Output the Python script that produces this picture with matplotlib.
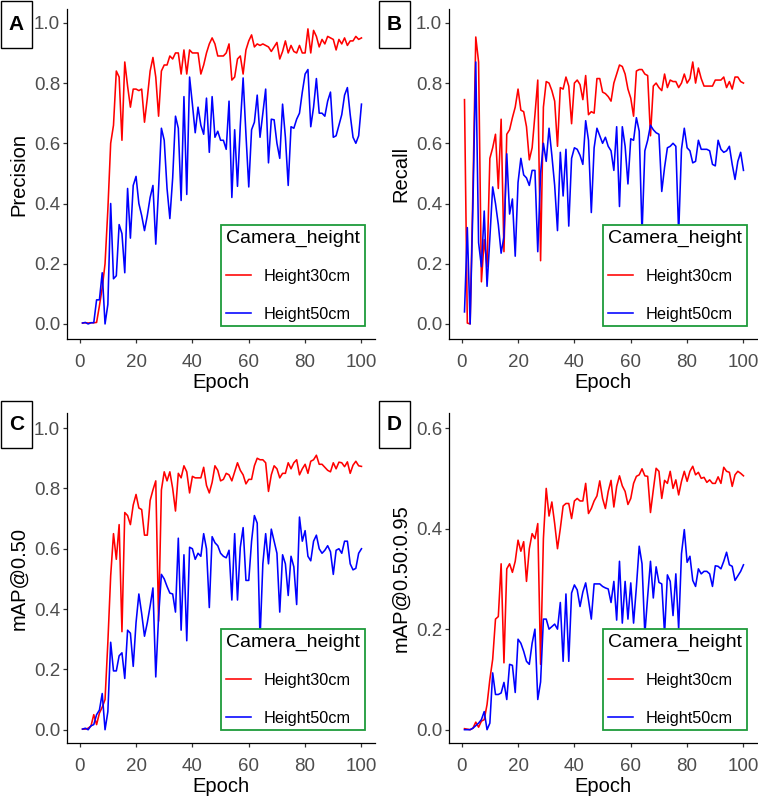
import numpy as np
import matplotlib
matplotlib.use('Agg')
import matplotlib.pyplot as plt
from matplotlib.patches import Rectangle

plt.rcParams['font.family'] = ['Liberation Sans', 'DejaVu Sans']

# Data (epochs 1..100)
epochs = np.arange(1, 101)

prec_30 = [0.003, 0.004, 0.003, 0.004, 0.004, 0.005, 0.06, 0.12, 0.2, 0.38,
           0.6, 0.66, 0.84, 0.82, 0.61, 0.87, 0.79, 0.72, 0.78, 0.78,
           0.775, 0.78, 0.67, 0.75, 0.84, 0.885, 0.82, 0.69, 0.84, 0.86,
           0.86, 0.89, 0.88, 0.9, 0.9, 0.83, 0.91, 0.83, 0.91, 0.9,
           0.9, 0.9, 0.83, 0.86, 0.9, 0.93, 0.95, 0.93, 0.89, 0.89,
           0.89, 0.9, 0.93, 0.81, 0.82, 0.88, 0.89, 0.83, 0.91, 0.94,
           0.96, 0.92, 0.93, 0.925, 0.93, 0.925, 0.92, 0.905, 0.92, 0.935,
           0.88, 0.905, 0.94, 0.9, 0.925, 0.905, 0.9, 0.925, 0.9, 0.9,
           0.98, 0.9, 0.975, 0.955, 0.92, 0.945, 0.93, 0.955, 0.95, 0.945,
           0.91, 0.945, 0.93, 0.95, 0.925, 0.94, 0.94, 0.955, 0.945, 0.95]
prec_50 = [0.003, 0.005, 0.0, 0.004, 0.004, 0.08, 0.08, 0.17, 0.0, 0.065,
           0.4, 0.15, 0.16, 0.33, 0.3, 0.17, 0.45, 0.285, 0.46, 0.49,
           0.4, 0.36, 0.31, 0.36, 0.42, 0.46, 0.265, 0.45, 0.65, 0.61,
           0.45, 0.35, 0.485, 0.69, 0.65, 0.41, 0.755, 0.43, 0.82, 0.73,
           0.635, 0.72, 0.66, 0.63, 0.75, 0.57, 0.755, 0.62, 0.64, 0.61,
           0.61, 0.58, 0.74, 0.42, 0.645, 0.457, 0.66, 0.817, 0.63, 0.455,
           0.645, 0.67, 0.76, 0.62, 0.7, 0.78, 0.535, 0.68, 0.678, 0.6,
           0.55, 0.73, 0.62, 0.46, 0.655, 0.65, 0.68, 0.7, 0.77, 0.83,
           0.845, 0.655, 0.72, 0.815, 0.7, 0.7, 0.69, 0.74, 0.77, 0.62,
           0.625, 0.66, 0.695, 0.76, 0.785, 0.695, 0.62, 0.6, 0.625, 0.73]

recall_30 = [0.745, 0.003, 0.0, 0.45, 0.953, 0.87, 0.14, 0.28, 0.19, 0.55,
             0.585, 0.63, 0.45, 0.68, 0.24, 0.63, 0.645, 0.685, 0.72, 0.78,
             0.71, 0.705, 0.655, 0.545, 0.585, 0.695, 0.81, 0.21, 0.72, 0.805,
             0.8, 0.775, 0.74, 0.59, 0.785, 0.78, 0.82, 0.79, 0.665, 0.8,
             0.81, 0.795, 0.745, 0.825, 0.695, 0.705, 0.7, 0.815, 0.815, 0.77,
             0.765, 0.755, 0.74, 0.8, 0.83, 0.86, 0.855, 0.83, 0.78, 0.75,
             0.69, 0.84, 0.845, 0.845, 0.83, 0.825, 0.625, 0.79, 0.8, 0.785,
             0.775, 0.83, 0.785, 0.81, 0.805, 0.805, 0.785, 0.8, 0.83, 0.8,
             0.815, 0.87, 0.8, 0.85, 0.815, 0.79, 0.79, 0.79, 0.79, 0.81,
             0.81, 0.81, 0.82, 0.785, 0.805, 0.78, 0.82, 0.82, 0.805, 0.8]
recall_50 = [0.04, 0.32, 0.0, 0.4, 0.87, 0.27, 0.19, 0.375, 0.125, 0.285,
             0.455, 0.4, 0.33, 0.235, 0.29, 0.565, 0.365, 0.415, 0.225, 0.47,
             0.55, 0.495, 0.485, 0.46, 0.51, 0.51, 0.24, 0.5, 0.6, 0.54,
             0.65, 0.56, 0.46, 0.31, 0.57, 0.425, 0.58, 0.325, 0.55, 0.585,
             0.58, 0.56, 0.53, 0.675, 0.61, 0.37, 0.585, 0.65, 0.625, 0.6,
             0.62, 0.59, 0.575, 0.51, 0.655, 0.39, 0.655, 0.59, 0.465, 0.615,
             0.61, 0.685, 0.64, 0.3, 0.575, 0.61, 0.66, 0.645, 0.635, 0.63,
             0.44, 0.52, 0.585, 0.59, 0.6, 0.59, 0.3, 0.58, 0.65, 0.585,
             0.575, 0.535, 0.54, 0.61, 0.58, 0.58, 0.58, 0.575, 0.53, 0.525,
             0.61, 0.58, 0.57, 0.575, 0.59, 0.53, 0.48, 0.54, 0.57, 0.51]

map50_30 = [0.002, 0.002, 0.005, 0.012, 0.05, 0.017, 0.055, 0.075, 0.1, 0.29,
            0.51, 0.65, 0.565, 0.68, 0.325, 0.72, 0.71, 0.68, 0.745, 0.78,
            0.735, 0.73, 0.645, 0.645, 0.76, 0.795, 0.825, 0.36, 0.795, 0.855,
            0.825, 0.855, 0.8, 0.725, 0.85, 0.835, 0.875, 0.855, 0.785, 0.84,
            0.835, 0.835, 0.835, 0.87, 0.81, 0.785, 0.82, 0.875, 0.86, 0.825,
            0.83, 0.85, 0.845, 0.825, 0.855, 0.885, 0.86, 0.845, 0.815, 0.83,
            0.83, 0.875, 0.9, 0.895, 0.895, 0.885, 0.79, 0.845, 0.875, 0.865,
            0.835, 0.85, 0.85, 0.885, 0.865, 0.885, 0.895, 0.845, 0.865, 0.88,
            0.85, 0.89, 0.895, 0.91, 0.88, 0.88, 0.87, 0.86, 0.855, 0.885,
            0.865, 0.887, 0.885, 0.872, 0.888, 0.85, 0.877, 0.89, 0.875, 0.873]
map50_50 = [0.002, 0.005, 0.0, 0.013, 0.017, 0.05, 0.065, 0.12, 0.0, 0.06,
            0.29, 0.195, 0.195, 0.245, 0.255, 0.17, 0.33, 0.32, 0.21, 0.355,
            0.45, 0.385, 0.31, 0.355, 0.41, 0.47, 0.175, 0.375, 0.515, 0.5,
            0.475, 0.453, 0.45, 0.39, 0.635, 0.33, 0.58, 0.295, 0.605, 0.6,
            0.565, 0.585, 0.575, 0.65, 0.6, 0.405, 0.64, 0.62, 0.61, 0.585,
            0.575, 0.57, 0.595, 0.43, 0.65, 0.43, 0.605, 0.67, 0.495, 0.495,
            0.625, 0.71, 0.685, 0.3, 0.55, 0.65, 0.55, 0.665, 0.625, 0.585,
            0.39, 0.58, 0.55, 0.445, 0.575, 0.54, 0.415, 0.705, 0.625, 0.66,
            0.575, 0.56, 0.625, 0.645, 0.6, 0.585, 0.595, 0.61, 0.59, 0.515,
            0.595, 0.6, 0.585, 0.625, 0.625, 0.55, 0.53, 0.535, 0.585, 0.6]

map5095_30 = [0.002, 0.001, 0.0, 0.003, 0.015, 0.005, 0.017, 0.02, 0.05, 0.1,
              0.14, 0.22, 0.225, 0.33, 0.133, 0.32, 0.33, 0.313, 0.335, 0.377,
              0.355, 0.374, 0.295, 0.36, 0.39, 0.38, 0.41, 0.13, 0.38, 0.48,
              0.425, 0.453, 0.41, 0.36, 0.4, 0.445, 0.45, 0.45, 0.42, 0.455,
              0.46, 0.455, 0.455, 0.49, 0.43, 0.44, 0.455, 0.465, 0.495, 0.46,
              0.44, 0.474, 0.496, 0.443, 0.484, 0.505, 0.485, 0.474, 0.448, 0.46,
              0.49, 0.504, 0.507, 0.519, 0.505, 0.504, 0.432, 0.477, 0.52, 0.514,
              0.46, 0.496, 0.49, 0.514, 0.48, 0.497, 0.467, 0.494, 0.514, 0.494,
              0.514, 0.524, 0.507, 0.512, 0.5, 0.502, 0.492, 0.497, 0.49, 0.49,
              0.503, 0.49, 0.522, 0.514, 0.512, 0.484, 0.507, 0.514, 0.51, 0.505]
map5095_50 = [0.0, 0.0, 0.0, 0.003, 0.008, 0.013, 0.02, 0.036, 0.0, 0.013,
              0.113, 0.07, 0.07, 0.073, 0.094, 0.06, 0.13, 0.128, 0.074, 0.18,
              0.172, 0.156, 0.136, 0.13, 0.172, 0.2, 0.06, 0.095, 0.22, 0.22,
              0.2, 0.205, 0.21, 0.2, 0.253, 0.136, 0.27, 0.136, 0.272, 0.288,
              0.278, 0.245, 0.274, 0.292, 0.258, 0.22, 0.29, 0.29, 0.29, 0.285,
              0.282, 0.28, 0.253, 0.295, 0.218, 0.335, 0.212, 0.295, 0.22, 0.292,
              0.212, 0.284, 0.365, 0.33, 0.19, 0.265, 0.335, 0.262, 0.324, 0.293,
              0.29, 0.19, 0.308, 0.295, 0.227, 0.31, 0.2, 0.35, 0.398, 0.333,
              0.345, 0.297, 0.285, 0.32, 0.31, 0.315, 0.315, 0.31, 0.285, 0.326,
              0.325, 0.32, 0.335, 0.353, 0.328, 0.325, 0.297, 0.306, 0.315, 0.328]

W, H = 758, 800
fig = plt.figure(figsize=(W / 100, H / 100), dpi=100)


def px_axes(left, top, right, bottom):
    return fig.add_axes([left / W, 1 - bottom / H, (right - left) / W, (bottom - top) / H])


panels = [
    ('A', 'Precision', prec_30, prec_50, (67, 9, 375, 339), (-0.05, 1.046), [0, 0.2, 0.4, 0.6, 0.8, 1.0], (0, 0)),
    ('B', 'Recall', recall_30, recall_50, (449, 9, 757, 339), (-0.05, 1.046), [0, 0.2, 0.4, 0.6, 0.8, 1.0], (378, 0)),
    ('C', 'mAP@0.50', map50_30, map50_50, (67, 413, 375, 743), (-0.044, 1.05), [0, 0.2, 0.4, 0.6, 0.8, 1.0], (0, 400)),
    ('D', 'mAP@0.50:0.95', map5095_30, map5095_50, (449, 413, 757, 743), (-0.0265, 0.63), [0, 0.2, 0.4, 0.6], (378, 400)),
]

for tag, ylab, s30, s50, box, ylim, yticks, lab_pos in panels:
    ax = px_axes(*box)
    ax.plot(epochs, s30, color='#FF0000', lw=1.15, label='Height30cm')
    ax.plot(epochs, s50, color='#0000FF', lw=1.15, label='Height50cm')
    ax.set_xlim(-4.5, 104.8)
    ax.set_ylim(*ylim)
    ax.set_xticks([0, 20, 40, 60, 80, 100])
    ax.set_yticks(yticks)
    ax.set_yticklabels(['%.1f' % v for v in yticks])
    for s in ['top', 'right']:
        ax.spines[s].set_visible(False)
    for s in ['left', 'bottom']:
        ax.spines[s].set_linewidth(0.9)
        ax.spines[s].set_color('black')
    ax.tick_params(direction='out', length=3, width=0.9, color='#333333',
                   labelsize=13.5, labelcolor='#4D4D4D', pad=2)
    ax.tick_params(axis='x', pad=8)
    ax.set_xlabel('Epoch', fontsize=14.5, labelpad=1)
    ax.set_ylabel(ylab, fontsize=14.5, labelpad=4)

    leg = ax.legend(title='Camera_height', loc='lower right', bbox_to_anchor=(0.966, 0.038),
                    fontsize=11.7, title_fontsize=14, frameon=True, fancybox=False,
                    borderpad=0.3, handlelength=1.55, handletextpad=0.8,
                    labelspacing=1.38, borderaxespad=0, alignment='left')
    frame = leg.get_frame()
    frame.set_edgecolor('#1E9B3A')
    frame.set_linewidth(1.3)
    frame.set_facecolor('white')
    frame.set_alpha(1)

    # boxed panel tag
    lx, ly = lab_pos
    fig.add_artist(Rectangle((lx / W + 0.5 / W, 1 - (ly + 48) / H), 31 / W, 47.5 / H,
                             transform=fig.transFigure, fill=True, fc='white',
                             ec='black', lw=1.0))
    fig.text((lx + 16.5) / W, 1 - (ly + 24.5) / H, tag, fontsize=15, fontweight='bold',
             ha='center', va='center')

fig.savefig('out.png', dpi=100)
